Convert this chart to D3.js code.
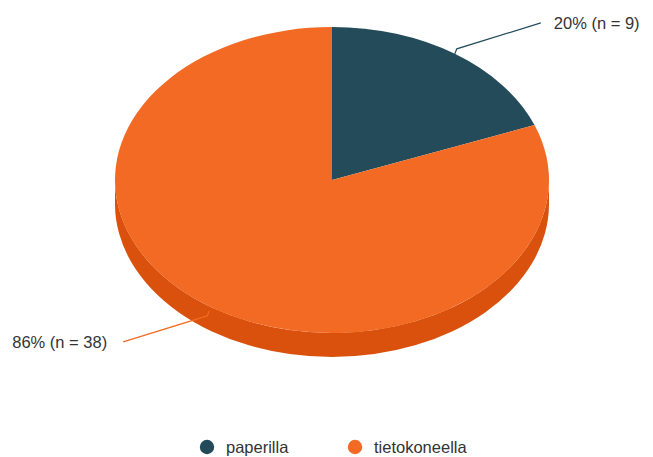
<!DOCTYPE html>
<html>
<head>
<meta charset="utf-8">
<script src="https://cdn.jsdelivr.net/npm/d3@7"></script>
<style>
  html, body { margin: 0; padding: 0; background: #fff; }
  svg { display: block; }
  text { font-family: "Liberation Sans", Arial, sans-serif; }
</style>
</head>
<body>
<svg id="chart" width="653" height="457"></svg>
<script>
// Survey answers: how the response was filled in
const categories = ["paperilla", "tietokoneella"];
const counts = [9, 38];
const percentLabels = ["20%", "86%"];
const colors = ["#234b5a", "#f26a23"];
const sideColors = ["#1a3a46", "#d9510c"];

const W = 653, H = 457;
const cx = 332, cy = 180, rx = 217, ry = 153, depth = 24;
const fontSize = 16.5;

const svg = d3.select("#chart");

const pie = d3.pie().sort(null).value(d => d.n).startAngle(0).endAngle(2 * Math.PI);
const data = categories.map((c, i) => ({ name: c, n: counts[i], pct: percentLabels[i], color: colors[i], side: sideColors[i] }));
const arcs = pie(data);

// point on the ellipse for an angle measured clockwise from 12 o'clock
const pt = (a, dy = 0) => [cx + rx * Math.sin(a), cy - ry * Math.cos(a) + dy];

function topPath(a0, a1) {
  const p0 = pt(a0), p1 = pt(a1);
  const large = (a1 - a0) > Math.PI ? 1 : 0;
  return `M${cx},${cy}L${p0[0]},${p0[1]}A${rx},${ry} 0 ${large} 1 ${p1[0]},${p1[1]}Z`;
}

function sidePath(a0, a1) {
  // only the front half (between 3 and 9 o'clock) of the rim is visible
  const s = Math.max(a0, Math.PI / 2), e = Math.min(a1, 3 * Math.PI / 2);
  if (e <= s) return null;
  const p0 = pt(s), p1 = pt(e), q1 = pt(e, depth), q0 = pt(s, depth);
  return `M${p0[0]},${p0[1]}A${rx},${ry} 0 0 1 ${p1[0]},${p1[1]}` +
         `L${q1[0]},${q1[1]}A${rx},${ry} 0 0 0 ${q0[0]},${q0[1]}Z`;
}

const g = svg.append("g");

// rim first, then the top faces
arcs.forEach(d => {
  const p = sidePath(d.startAngle, d.endAngle);
  if (p) g.append("path").attr("d", p).attr("fill", d.data.side);
});
arcs.forEach(d => {
  g.append("path").attr("d", topPath(d.startAngle, d.endAngle)).attr("fill", d.data.color);
});

// leader lines and value labels
arcs.forEach(d => {
  const m = (d.startAngle + d.endAngle) / 2;
  const sx = Math.sin(m) >= 0 ? 1 : -1;
  const sy = -Math.cos(m) >= 0 ? 1 : -1;
  const front = sy > 0 ? depth * 0.2 : 0;
  const p = pt(m, front);
  const k = [p[0] + sx * 2, p[1] + sy * 5];
  const e = [p[0] + sx * 86, p[1] + sy * 31];
  g.append("polyline")
    .attr("points", [p, k, e].map(q => q.join(",")).join(" "))
    .attr("fill", "none")
    .attr("stroke", d.data.color)
    .attr("stroke-width", 1.2);
  g.append("text")
    .attr("x", e[0] + sx * (sx > 0 ? 13 : 16))
    .attr("y", e[1])
    .attr("dy", "0.35em")
    .attr("text-anchor", sx > 0 ? "start" : "end")
    .attr("font-size", fontSize)
    .attr("fill", "#333")
    .text(`${d.data.pct} (n = ${d.data.n})`);
});

// legend
const legend = svg.append("g").attr("transform", "translate(0,447)");
const legendX = d3.scalePoint().domain(categories).range([207, 355]);
categories.forEach((c, i) => {
  const x = legendX(c);
  legend.append("circle").attr("cx", x).attr("cy", 0).attr("r", 7.2).attr("fill", colors[i]);
  legend.append("text").attr("x", x + 19).attr("y", 0).attr("dy", "0.35em")
    .attr("font-size", fontSize).attr("fill", "#333").text(c);
});
</script>
</body>
</html>
